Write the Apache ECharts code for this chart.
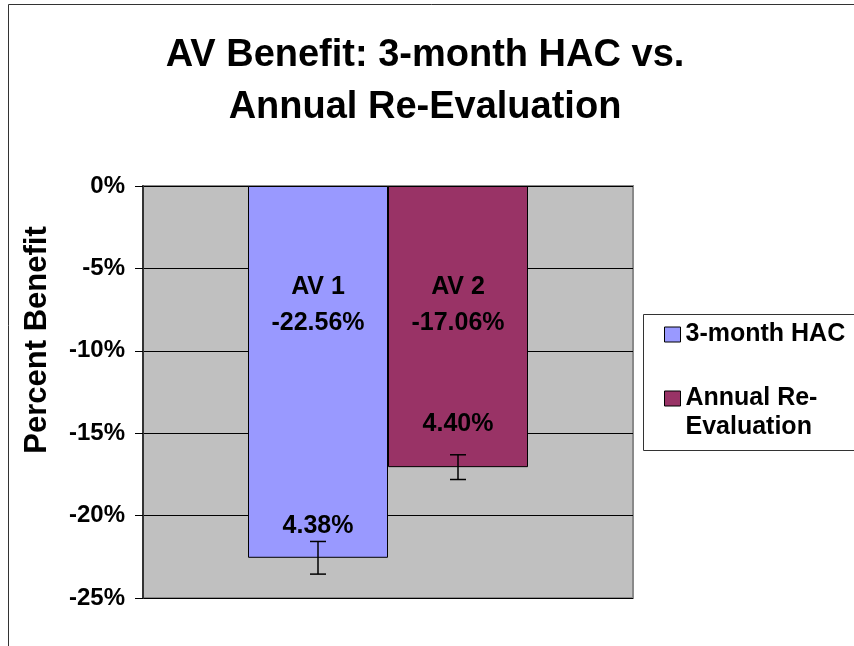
<!DOCTYPE html>
<html>
<head>
<meta charset="utf-8">
<script src="https://cdn.jsdelivr.net/npm/echarts@6/dist/echarts.min.js"></script>
<style>
  html, body { margin: 0; padding: 0; background: #fff; }
  #chart { width: 854px; height: 646px; }
</style>
</head>
<body>
<div id="chart"></div>
<script>
// AV benefit bar chart, two bars with error bars and in-bar labels.
var categories = ['AV Benefit'];
var seriesNames = ['3-month HAC', 'Annual Re-Evaluation'];
var barNames = ['AV 1', 'AV 2'];
var benefitValues = [-22.56, -17.06];
var errorValues = [0.99, 0.75];
var ratioLabels = ['4.38%', '4.40%'];
var yMin = -25, yMax = 0, yStep = 5;

var FONT = "'Liberation Sans', Arial, sans-serif";
var BAR_W = 140;
var COLORS = ['#9999FF', '#993366'];
// distance from the bar end up to the centre of the ratio label
var RATIO_GAP = [32, 43];

function renderLabels(params, api) {
    var i = api.value(3);
    var v = api.value(1);
    var e = api.value(2);
    var base = api.coord([0, 0]);
    var cx = base[0] + (i - 0.5) * BAR_W;
    var yTop = api.coord([0, v + e])[1];
    var yBot = api.coord([0, v - e])[1];
    var yEnd = api.coord([0, v])[1];
    var lineStyle = { stroke: '#000', lineWidth: 1.5 };
    var font = 'bold 25px ' + FONT;
    return {
        type: 'group',
        children: [
            { type: 'line', shape: { x1: cx, y1: yTop, x2: cx, y2: yBot }, style: lineStyle },
            { type: 'line', shape: { x1: cx - 8, y1: yTop, x2: cx + 8, y2: yTop }, style: lineStyle },
            { type: 'line', shape: { x1: cx - 8, y1: yBot, x2: cx + 8, y2: yBot }, style: lineStyle },
            { type: 'text', style: { text: barNames[i], x: cx, y: base[1] + 101, font: font, fill: '#000', align: 'center', verticalAlign: 'middle' } },
            { type: 'text', style: { text: v.toFixed(2) + '%', x: cx, y: base[1] + 137, font: font, fill: '#000', align: 'center', verticalAlign: 'middle' } },
            { type: 'text', style: { text: ratioLabels[i], x: cx, y: yEnd - RATIO_GAP[i], font: font, fill: '#000', align: 'center', verticalAlign: 'middle' } }
        ]
    };
}

var chart = echarts.init(document.getElementById('chart'), null, { renderer: 'canvas' });

var series = [];
for (var i = 0; i < seriesNames.length; i++) {
    series.push({
        name: seriesNames[i],
        type: 'bar',
        data: [benefitValues[i]],
        barWidth: BAR_W,
        barGap: '0%',
        itemStyle: { color: COLORS[i], borderColor: '#000', borderWidth: 1 },
        emphasis: { disabled: true },
        animation: false
    });
}
var labelData = [];
for (var j = 0; j < benefitValues.length; j++) {
    labelData.push([0, benefitValues[j], errorValues[j], j]);
}
series.push({
    type: 'custom',
    name: 'labels',
    data: labelData,
    encode: { x: 0, y: 1 },
    renderItem: renderLabels,
    z: 10,
    animation: false,
    silent: true
});

var option = {
    animation: false,
    backgroundColor: '#fff',
    title: {
        text: 'AV Benefit: 3-month HAC vs.\nAnnual Re-Evaluation',
        left: 420,
        top: 25,
        textAlign: 'center',
        textStyle: { fontFamily: FONT, fontSize: 38, fontWeight: 'bold', color: '#000', lineHeight: 52 }
    },
    grid: {
        left: 143, right: 221, top: 186, bottom: 48,
        show: true,
        backgroundColor: '#C0C0C0',
        borderColor: '#8a8a8a',
        borderWidth: 2
    },
    legend: {
        orient: 'vertical',
        left: 664,
        top: 320,
        padding: 0,
        itemWidth: 16,
        itemHeight: 15,
        itemGap: 6,
        icon: 'rect',
        itemStyle: { borderColor: '#000', borderWidth: 1 },
        textStyle: { fontFamily: FONT, fontSize: 25, fontWeight: 'bold', color: '#000', lineHeight: 29 },
        data: [seriesNames[0], seriesNames[1]],
        formatter: function (name) {
            // blank first line keeps the icon level with "Annual Re-"
            return name === seriesNames[1] ? '\nAnnual Re-\nEvaluation' : name;
        },
        selectedMode: false
    },
    xAxis: {
        type: 'category',
        data: categories,
        axisLine: { show: false },
        axisTick: { show: false },
        axisLabel: { show: false }
    },
    yAxis: {
        type: 'value',
        min: yMin,
        max: yMax,
        interval: yStep,
        axisLine: { show: true, lineStyle: { color: '#333', width: 2 } },
        axisTick: { show: true, inside: false, length: 8, lineStyle: { color: '#000' } },
        axisLabel: {
            margin: 18,
            fontFamily: FONT, fontSize: 24, fontWeight: 'bold', color: '#000',
            formatter: function (v) { return v + '%'; }
        },
        splitLine: { show: true, lineStyle: { color: '#000', width: 1 } }
    },
    graphic: [
        {
            type: 'rect',
            shape: { x: 8.5, y: 4.5, width: 1000, height: 1000 },
            style: { fill: 'none', stroke: '#333', lineWidth: 1 },
            z: 100
        },
        {
            type: 'rect',
            shape: { x: 643.5, y: 314.5, width: 300, height: 136 },
            style: { fill: '#fff', stroke: '#333', lineWidth: 1 },
            z: -1
        },
        {
            type: 'text',
            x: 37,
            y: 340,
            rotation: Math.PI / 2,
            style: {
                text: 'Percent Benefit',
                font: 'bold 31px ' + FONT,
                fill: '#000',
                align: 'center',
                verticalAlign: 'middle'
            }
        }
    ],
    series: series
};

chart.setOption(option);
</script>
</body>
</html>
